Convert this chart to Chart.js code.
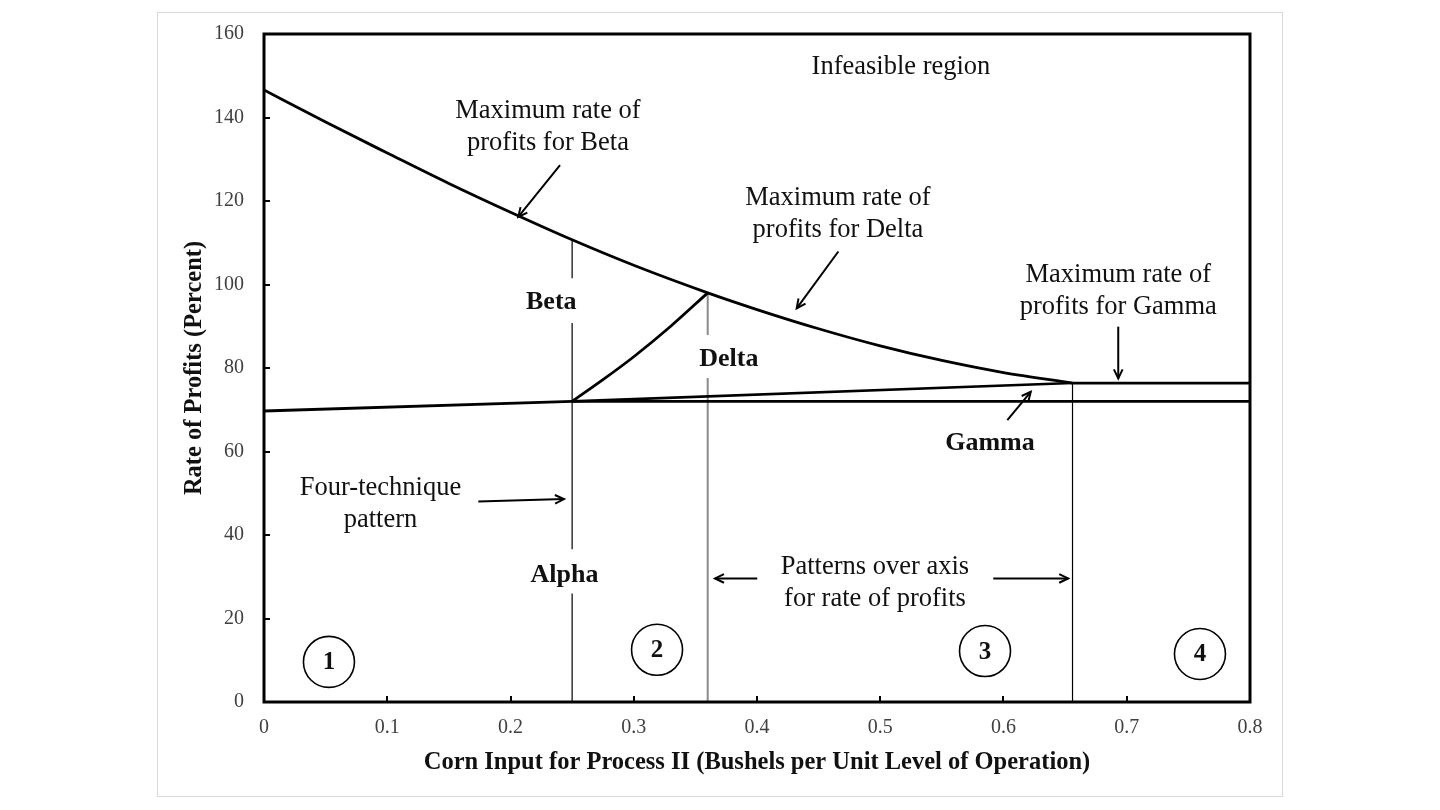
<!DOCTYPE html>
<html>
<head>
<meta charset="utf-8">
<script src="https://cdn.jsdelivr.net/npm/chart.js@4.4.1/dist/chart.umd.min.js"></script>
<style>
html, body { margin: 0; padding: 0; background: #fff; }
#frame { position: absolute; left: 157px; top: 12px; width: 1124px; height: 783px; border: 1px solid #d9d9d9; }
</style>
</head>
<body>
<div id="frame"><canvas id="chart"></canvas></div>
<script>
// corn input (x) vs rate of profits (y)
const betaX = [0, 0.05, 0.1, 0.15, 0.2, 0.25, 0.3, 0.36, 0.4, 0.45, 0.5, 0.55, 0.6, 0.656];
const betaMax = [146.6, 138.9, 131.5, 124.2, 117.3, 110.7, 104.6, 98.0, 94.0, 89.4, 85.3, 81.8, 78.9, 76.4];

const deltaX = [0.25, 0.275, 0.3, 0.33, 0.36];
const deltaMax = [72.0, 77.2, 82.7, 90.0, 98.0];

const alphaX = [0, 0.25, 0.8];
const alphaRate = [69.7, 72.0, 72.0];

const gammaX = [0.25, 0.656];
const gammaRate = [72.0, 76.4];

const gammaMaxX = [0.656, 0.8];
const gammaMaxRate = [76.4, 76.4];

// switch points (vertical lines), null = gap for a label
const betaSwitchX = 0.25;
const betaSwitchY = [110.7, 101.5, null, 90.8, 36.6, null, 26.0, 0];
const deltaSwitchX = 0.36;
const deltaSwitchY = [98.0, 87.9, null, 77.6, 0];
const gammaSwitchX = 0.656;
const gammaSwitchY = [76.4, 0];

// annotations
const notes = [
    {text: ['Infeasible region'], x: 0.5168, y: 152.1},
    {text: ['Maximum rate of', 'profits for Beta'], x: 0.2304, y: 137.8},
    {text: ['Maximum rate of', 'profits for Delta'], x: 0.4657, y: 116.9},
    {text: ['Maximum rate of', 'profits for Gamma'], x: 0.6931, y: 98.5},
    {text: ['Four-technique', 'pattern'], x: 0.0945, y: 47.4},
    {text: ['Patterns over axis', 'for rate of profits'], x: 0.4957, y: 28.6}
];
const boldNotes = [
    {text: 'Beta', x: 0.2331, y: 95.7},
    {text: 'Delta', x: 0.3772, y: 82.2},
    {text: 'Gamma', x: 0.589, y: 62.0},
    {text: 'Alpha', x: 0.2438, y: 30.4}
];
const arrows = [
    [0.2402, 128.6, 0.2063, 116.2],
    [0.466, 107.9, 0.4322, 94.3],
    [0.6931, 89.9, 0.6931, 77.5],
    [0.6031, 67.5, 0.6221, 74.3],
    [0.1739, 48.0, 0.2434, 48.6],
    [0.4002, 29.6, 0.3659, 29.6],
    [0.5917, 29.6, 0.6525, 29.6]
];
const circles = [
    {text: '1', x: 0.0527, y: 9.6},
    {text: '2', x: 0.3189, y: 12.5},
    {text: '3', x: 0.585, y: 12.2},
    {text: '4', x: 0.7594, y: 11.5}
];

function pts(xs, ys){
    return ys.map((v, i) => ({x: Array.isArray(xs) ? xs[i] : xs, y: v}));
}

function lineSet(data, width, color, smooth){
    return {
        data: data,
        borderColor: color,
        borderWidth: width,
        pointRadius: 0,
        cubicInterpolationMode: smooth ? 'monotone' : 'default',
        tension: 0,
        spanGaps: false,
        fill: false
    };
}

const serif = "'Liberation Serif', 'Times New Roman', serif";

function arrow(ctx, x1, y1, x2, y2){
    const ang = Math.atan2(y2 - y1, x2 - x1);
    const h = 10;
    ctx.beginPath();
    ctx.moveTo(x1, y1);
    ctx.lineTo(x2, y2);
    ctx.stroke();
    ctx.beginPath();
    ctx.moveTo(x2 - h * Math.cos(ang - 0.45), y2 - h * Math.sin(ang - 0.45));
    ctx.lineTo(x2, y2);
    ctx.lineTo(x2 - h * Math.cos(ang + 0.45), y2 - h * Math.sin(ang + 0.45));
    ctx.stroke();
}

const overlay = {
    id: 'overlay',
    afterDatasetsDraw(chart){
        const {ctx, chartArea: a} = chart;
        const sx = chart.scales.x, sy = chart.scales.y;
        ctx.save();
        ctx.strokeStyle = '#000';
        ctx.fillStyle = '#111';

        // inward tick marks
        ctx.lineWidth = 2;
        sy.ticks.forEach(t => {
            const py = Math.round(sy.getPixelForValue(t.value));
            ctx.beginPath(); ctx.moveTo(a.left, py); ctx.lineTo(a.left + 6, py); ctx.stroke();
        });
        sx.ticks.forEach(t => {
            const px = Math.round(sx.getPixelForValue(t.value));
            ctx.beginPath(); ctx.moveTo(px, a.bottom); ctx.lineTo(px, a.bottom - 6); ctx.stroke();
        });

        // plot frame
        ctx.lineWidth = 3;
        ctx.strokeRect(a.left, a.top, a.right - a.left, a.bottom - a.top);

        // text notes
        ctx.textAlign = 'center';
        ctx.textBaseline = 'middle';
        ctx.font = '26.5px ' + serif;
        notes.forEach(n => {
            const cx = sx.getPixelForValue(n.x);
            const cy = sy.getPixelForValue(n.y);
            const top = cy - (n.text.length - 1) * 16;
            n.text.forEach((line, i) => ctx.fillText(line, cx, top + i * 32));
        });
        ctx.font = 'bold 26px ' + serif;
        boldNotes.forEach(n => ctx.fillText(n.text, sx.getPixelForValue(n.x), sy.getPixelForValue(n.y)));

        // arrows
        ctx.lineWidth = 2;
        arrows.forEach(r => arrow(ctx,
            sx.getPixelForValue(r[0]), sy.getPixelForValue(r[1]),
            sx.getPixelForValue(r[2]), sy.getPixelForValue(r[3])));

        // numbered circles
        ctx.lineWidth = 1.6;
        ctx.font = 'bold 25px ' + serif;
        circles.forEach(c => {
            const cx = sx.getPixelForValue(c.x), cy = sy.getPixelForValue(c.y);
            ctx.beginPath(); ctx.arc(cx, cy, 25.5, 0, Math.PI * 2); ctx.stroke();
            ctx.fillText(c.text, cx, cy + 1);
        });
        ctx.restore();
    }
};

new Chart(document.getElementById('chart'), {
    type: 'line',
    data: {
        datasets: [
            lineSet(pts(betaX, betaMax), 2.8, '#000', true),
            lineSet(pts(deltaX, deltaMax), 2.8, '#000', true),
            lineSet(pts(alphaX, alphaRate), 2.8, '#000'),
            lineSet(pts(gammaX, gammaRate), 2.6, '#000'),
            lineSet(pts(gammaMaxX, gammaMaxRate), 2.8, '#000'),
            lineSet(pts(betaSwitchX, betaSwitchY), 1.2, '#000'),
            lineSet(pts(deltaSwitchX, deltaSwitchY), 2, '#8a8a8a'),
            lineSet(pts(gammaSwitchX, gammaSwitchY), 1.2, '#000')
        ]
    },
    options: {
        responsive: true,
        maintainAspectRatio: false,
        animation: false,
        layout: {padding: {top: 21, right: 32, left: 0, bottom: 0}},
        plugins: {legend: {display: false}, tooltip: {enabled: false}},
        scales: {
            x: {
                type: 'linear',
                min: 0, max: 0.8,
                afterFit: s => { s.height = 94; s.paddingLeft = 0; s.paddingRight = 0; },
                grid: {display: false, drawTicks: false},
                border: {display: false},
                ticks: {stepSize: 0.1, padding: 14, color: '#404040', font: {family: serif, size: 20}},
                title: {display: true, text: 'Corn Input for Process II (Bushels per Unit Level of Operation)',
                    color: '#111', font: {family: serif, size: 24.5, weight: 'bold'}, padding: {top: 0, bottom: 19}}
            },
            y: {
                min: 0, max: 160,
                afterFit: s => { s.width = 106; s.paddingTop = 0; s.paddingBottom = 0; },
                grid: {display: false, drawTicks: false},
                border: {display: false},
                ticks: {stepSize: 20, padding: 20, color: '#404040', font: {family: serif, size: 20}},
                title: {display: true, text: 'Rate of Profits (Percent)',
                    color: '#111', font: {family: serif, size: 24.5, weight: 'bold'}, padding: {top: 22, bottom: 0}}
            }
        }
    },
    plugins: [overlay]
});
</script>
</body>
</html>
